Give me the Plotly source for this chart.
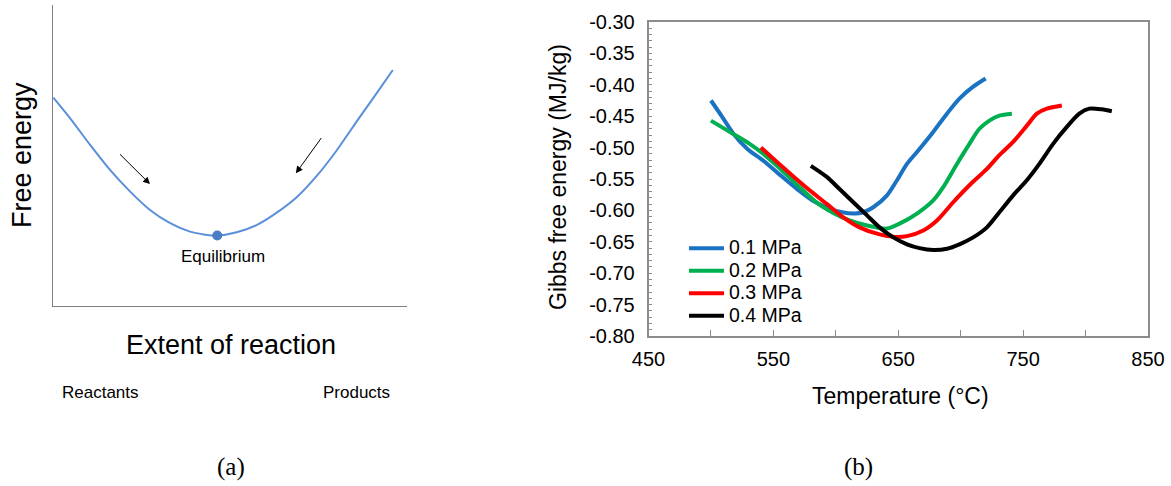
import plotly.graph_objects as go

W, H = 1171, 486

# ---------------- Panel (a): schematic free-energy curve ----------------
extent = [0.01, 0.48, 1.05, 1.61, 2.18, 2.74, 3.31, 3.87, 4.30, 4.64, 5.19, 5.75,
          6.27, 6.90, 7.45, 7.97, 8.62, 9.10, 9.60]
free_energy = [6.92, 6.24, 5.35, 4.52, 3.80, 3.19, 2.75, 2.47, 2.37, 2.34, 2.45, 2.69,
               3.06, 3.63, 4.32, 5.10, 6.20, 7.00, 7.84]
eq_index = 9
arrow_tail_x = [1.85, 7.61]
arrow_tail_y = [5.09, 5.63]
arrow_head_x = [2.74, 6.86]
arrow_head_y = [4.05, 4.41]

# ---------------- Panel (b): Gibbs free energy vs temperature ----------------
t_01 = [500, 509, 518, 529, 542, 555, 569, 582, 595, 605, 615, 622, 630, 641,
        649, 657, 665, 678, 689, 699, 710, 720]
g_01 = [-0.425, -0.451, -0.478, -0.502, -0.521, -0.543, -0.566, -0.585, -0.597,
        -0.603, -0.605, -0.603, -0.595, -0.576, -0.552, -0.526, -0.507, -0.475,
        -0.446, -0.422, -0.403, -0.390]

t_02 = [500, 515, 531, 542, 555, 570, 585, 598, 610, 625, 641, 651, 665, 678,
        686, 697, 707, 715, 723, 731, 741]
g_02 = [-0.457, -0.475, -0.494, -0.510, -0.533, -0.561, -0.588, -0.604, -0.615,
        -0.624, -0.629, -0.621, -0.605, -0.584, -0.563, -0.526, -0.494, -0.470,
        -0.457, -0.449, -0.446]

t_03 = [540, 554, 566, 579, 593, 606, 619, 633, 646, 657, 670, 681, 694, 707,
        721, 731, 742, 753, 761, 769, 781]
g_03 = [-0.500, -0.525, -0.546, -0.568, -0.590, -0.611, -0.627, -0.637, -0.642,
        -0.641, -0.632, -0.616, -0.587, -0.560, -0.534, -0.512, -0.491, -0.465,
        -0.446, -0.438, -0.433]

t_04 = [580, 593, 603, 614, 625, 635, 646, 657, 667, 678, 689, 699, 710, 721,
        731, 742, 753, 763, 774, 785, 795, 803, 813, 821]
g_04 = [-0.529, -0.547, -0.566, -0.587, -0.608, -0.627, -0.643, -0.654, -0.660,
        -0.663, -0.661, -0.654, -0.643, -0.627, -0.603, -0.576, -0.552, -0.526,
        -0.494, -0.467, -0.446, -0.438, -0.439, -0.442]

series_names = ["0.1 MPa", "0.2 MPa", "0.3 MPa", "0.4 MPa"]
series_colors = ["#1A72C2", "#00B050", "#FF0000", "#000000"]
series_t = [t_01, t_02, t_03, t_04]
series_g = [g_01, g_02, g_03, g_04]

x_tick_vals = [450, 550, 650, 750, 850]
y_tick_vals = [-0.80, -0.75, -0.70, -0.65, -0.60, -0.55, -0.50, -0.45, -0.40, -0.35, -0.30]
y_tick_text = ["-0.80", "-0.75", "-0.70", "-0.65", "-0.60", "-0.55", "-0.50",
               "-0.45", "-0.40", "-0.35", "-0.30"]


def px_x(p):
    return p / W


def px_y(p):
    return 1 - p / H


FONT = "Liberation Sans, Arial, sans-serif"
SERIF = "Liberation Serif, Times New Roman, serif"

fig = go.Figure()

# Panel (a) traces
fig.add_trace(go.Scatter(x=extent, y=free_energy, mode="lines",
                         line=dict(color="#5A8FDA", width=2, shape="spline", smoothing=0.7),
                         xaxis="x", yaxis="y", showlegend=False, hoverinfo="skip"))
fig.add_trace(go.Scatter(x=[extent[eq_index]], y=[free_energy[eq_index]], mode="markers",
                         marker=dict(color="#4A7EC4", size=10), xaxis="x", yaxis="y",
                         showlegend=False, cliponaxis=False))

# Panel (b) traces
for name, col, t, g in zip(series_names, series_colors, series_t, series_g):
    fig.add_trace(go.Scatter(x=t, y=g, name="<span style='font-size:19.5px'>" + name + "</span>",
                             mode="lines",
                             line=dict(color=col, width=4, shape="spline", smoothing=0.8),
                             xaxis="x2", yaxis="y2"))

annotations = []
for tx, ty, hx, hy in zip(arrow_tail_x, arrow_tail_y, arrow_head_x, arrow_head_y):
    annotations.append(dict(x=hx, y=hy, ax=tx, ay=ty, xref="x", yref="y", axref="x", ayref="y",
                            text="", showarrow=True, arrowhead=2, arrowsize=1.4, arrowwidth=1,
                            arrowcolor="#000000"))


def label(text, x, y, size, angle=0, family=FONT):
    return dict(text=text, x=px_x(x), y=px_y(y), xref="paper", yref="paper", showarrow=False,
                xanchor="center", yanchor="middle", textangle=angle,
                font=dict(family=family, size=size, color="#000000"))


annotations += [
    label("Free energy", 22, 155, 27, -90),
    label("Equilibrium", 223, 256, 17),
    label("Extent of reaction", 231, 345, 27),
    label("Reactants", 100, 392, 17),
    label("Products", 356, 392, 17),
    label("(a)", 231, 467, 25, family=SERIF),
    label("(b)", 858, 467, 25, family=SERIF),
    label("Gibbs free energy (MJ/kg)", 558, 177, 23, -90),
    label("Temperature (°C)", 900, 396, 23),
]

fig.update_layout(
    template="none",
    width=W, height=H, autosize=False,
    margin=dict(l=0, r=0, t=0, b=0, pad=0, autoexpand=False),
    paper_bgcolor="white", plot_bgcolor="white",
    font=dict(family=FONT, color="#000000"),
    xaxis=dict(domain=[px_x(53), px_x(407)], range=[0, 10], showline=True, linecolor="#7F7F7F",
               linewidth=1.2, showticklabels=False, ticks="", showgrid=False, zeroline=False,
               anchor="y", automargin=False),
    yaxis=dict(domain=[px_y(306), px_y(5)], range=[0, 10], showline=True, linecolor="#7F7F7F",
               linewidth=1.2, showticklabels=False, ticks="", showgrid=False, zeroline=False,
               anchor="x", automargin=False),
    xaxis2=dict(domain=[px_x(648.5), px_x(1148)], range=[450, 850], anchor="y2",
                tickvals=x_tick_vals, ticks="inside", ticklen=6, tickcolor="#8C8C8C",
                minor=dict(dtick=50, tick0=450, ticks="inside", ticklen=6, tickcolor="#8C8C8C"),
                showline=True, mirror=True, linecolor="#8C8C8C", linewidth=1.5,
                showgrid=False, zeroline=False, ticklabelstandoff=4, automargin=False,
                tickfont=dict(family=FONT, size=20, color="#000000")),
    yaxis2=dict(domain=[px_y(336), px_y(22)], range=[-0.80, -0.30], anchor="x2",
                tickvals=y_tick_vals, ticktext=y_tick_text, ticks="inside", ticklen=4,
                tickcolor="#8C8C8C",
                minor=dict(dtick=0.01, tick0=-0.80, ticks="inside", ticklen=4, tickcolor="#8C8C8C"),
                showline=True, mirror=True, linecolor="#8C8C8C", linewidth=1.5,
                showgrid=False, zeroline=False, ticklabelstandoff=8, automargin=False,
                tickfont=dict(family=FONT, size=20, color="#000000")),
    legend=dict(x=px_x(684), y=px_y(232), xanchor="left", yanchor="top",
                bgcolor="rgba(0,0,0,0)", borderwidth=0,
                font=dict(family=FONT, size=15, color="#000000"),
                itemwidth=35, tracegroupgap=0),
    showlegend=True,
    annotations=annotations,
)

fig.write_html("out.html")
